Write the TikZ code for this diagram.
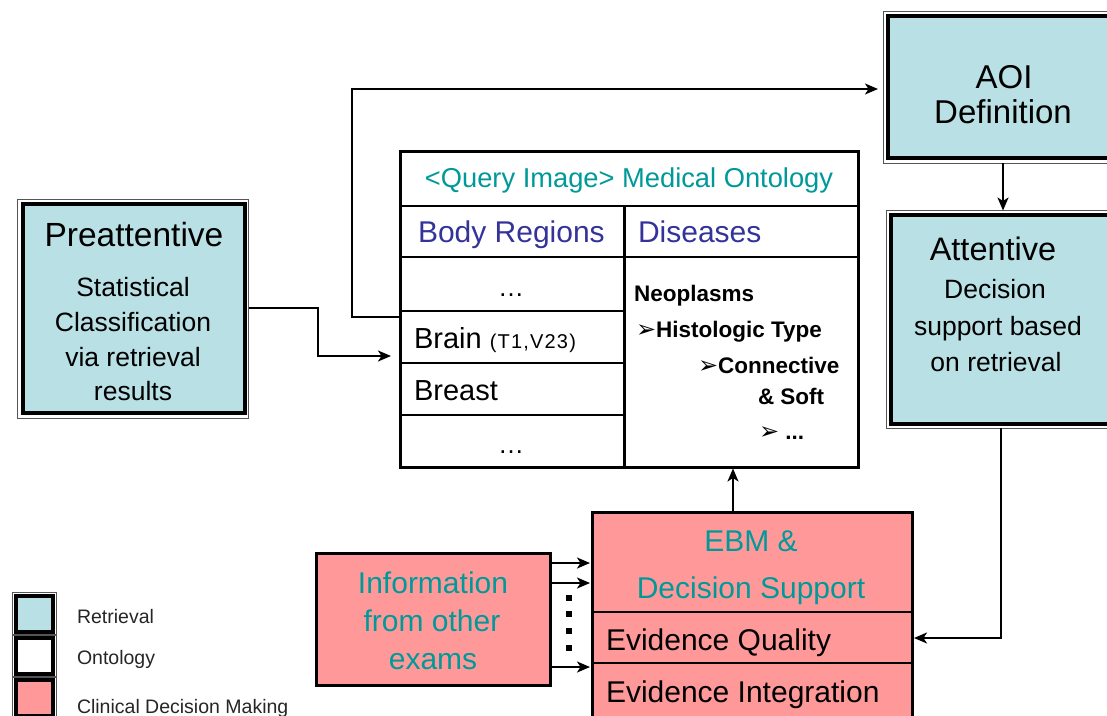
\documentclass[tikz,border=0pt]{standalone}
\usepackage{fontspec}
\setmainfont{Liberation Sans}
\newfontfamily\dejavu{DejaVu Sans}
\usetikzlibrary{arrows.meta,calc}
\definecolor{retr}{HTML}{B9E0E4}
\definecolor{clin}{HTML}{FF9999}
\definecolor{tealtxt}{HTML}{009999}
\definecolor{bluetxt}{HTML}{333399}
\definecolor{outerln}{HTML}{555555}
\newcommand{\fs}[1]{\fontsize{#1}{#1}\selectfont}
\begin{document}
\begin{tikzpicture}[x=1pt,y=-1pt,
  dbox/.style={draw=black, line width=4pt, rectangle, inner sep=0pt, outer sep=0pt, anchor=north west},
  sbox/.style={draw=black, line width=3pt, rectangle, inner sep=0pt, outer sep=0pt, anchor=north west},
  outline/.style={draw=outerln, line width=1pt},
  rowline/.style={line width=1.8pt},
  arr/.style={line width=1.9pt, -{Stealth[length=13pt,width=11pt,inset=3.5pt]}},
  txt/.style={inner sep=0pt, outer sep=0pt, anchor=base},
  txtw/.style={inner sep=0pt, outer sep=0pt, anchor=base west},
  dot/.style={fill=black, inner sep=0pt, minimum size=6pt, rectangle},
]
\useasboundingbox (0,0) rectangle (1107,715);
\fill[white] (0,0) rectangle (1107,715);

% ---------- Preattentive ----------
\node[dbox, fill=retr, minimum width=221.5pt, minimum height=209pt] (pre) at (23,204) {};
\draw[outline] ([shift={(-5.5pt,4.5pt)}]pre.north west) rectangle ([shift={(4pt,-5pt)}]pre.south east);
\node[txt, font=\fs{33.5}] (preT) at (134,246) {Preattentive};
\node[txt, font=\fs{26.5}] (preL1) at (133,296) {Statistical};
\node[txt, font=\fs{26.5}] (preL2) at (133,331) {Classification};
\node[txt, font=\fs{26.5}] (preL3) at (133,366) {via retrieval};
\node[txt, font=\fs{26.5}] (preL4) at (133,400) {results};

% ---------- AOI ----------
\node[dbox, fill=retr, minimum width=240pt, minimum height=142pt] (aoi) at (888,16) {};
\draw[outline] ([shift={(-5pt,4.5pt)}]aoi.north west) rectangle ([shift={(10pt,-5pt)}]aoi.south east);
\node[txt, font=\fs{33}] (aoiT1) at (1004,88) {AOI};
\node[txt, font=\fs{33}] (aoiT2) at (1003,123) {Definition};

% ---------- Attentive ----------
\node[dbox, fill=retr, minimum width=240pt, minimum height=209pt] (att) at (891,215) {};
\draw[outline] ([shift={(-4.5pt,4.5pt)}]att.north west) rectangle ([shift={(10pt,-4.5pt)}]att.south east);
\node[txt, font=\fs{32.5}] (attT) at (993,260) {Attentive};
\node[txt, font=\fs{26.5}] (attL1) at (995,298) {Decision};
\node[txt, font=\fs{26.5}] (attL2) at (998,335) {support based};
\node[txt, font=\fs{26.5}] (attL3) at (996,371) {on retrieval};

% ---------- Ontology table ----------
\node[sbox, fill=white, minimum width=458pt, minimum height=316pt] (onto) at (400,151) {};
\draw[rowline] (400,206) -- (858,206);
\draw[rowline] (400,257) -- (858,257);
\draw[line width=3pt] (624,206) -- (624,467);
\draw[rowline] (400,311) -- (624,311);
\draw[rowline] (400,363) -- (624,363);
\draw[rowline] (400,415) -- (624,415);
\node[txt, font=\fs{27.3}, text=tealtxt] (qhead) at (629,187) {<Query Image> Medical Ontology};
\node[txtw, font=\fs{30}, text=bluetxt] (body) at (418,242) {Body Regions};
\node[txtw, font=\fs{30}, text=bluetxt] (dis) at (638,242) {Diseases};
\node[txt, font=\fs{26}] (dots1) at (511,296) {…};
\node[txtw, font=\fs{29}] (brain) at (414,348) {Brain {\fs{20}\addfontfeature{LetterSpace=6}(T1,V23)}};
\node[txtw, font=\fs{29}] (breast) at (414,400) {Breast};
\node[txt, font=\fs{26}] (dots2) at (511,453) {…};
\node[txtw, font=\fs{22.5}\bfseries] (neo) at (634,301) {Neoplasms};
\node[txtw, font=\fs{22.5}\bfseries] (hist) at (636,337) {{\dejavu\fs{24}➢}Histologic Type};
\node[txtw, font=\fs{22.5}\bfseries] (conn) at (698,373) {{\dejavu\fs{24}➢}Connective};
\node[txtw, font=\fs{22.5}\bfseries] (soft) at (758,404) {\& Soft};
\node[txtw, font=\fs{22.5}\bfseries] (more) at (759,439) {{\dejavu\fs{24}➢} ...};

% ---------- EBM ----------
\node[sbox, fill=clin, minimum width=320pt, minimum height=230pt] (ebm) at (592,512) {};
\draw[rowline] (592,612) -- (912,612);
\draw[rowline] (592,663) -- (912,663);
\node[txt, font=\fs{30}, text=tealtxt] (ebmT1) at (751,551) {EBM \&};
\node[txt, font=\fs{30}, text=tealtxt] (ebmT2) at (751,598) {Decision Support};
\node[txtw, font=\fs{30}] (evq) at (606,650) {Evidence Quality};
\node[txtw, font=\fs{30}] (evi) at (606,702) {Evidence Integration};

% ---------- Information ----------
\node[sbox, fill=clin, minimum width=234pt, minimum height=132pt] (info) at (316,553) {};
\node[txt, font=\fs{30}, text=tealtxt] (infoT1) at (433,593) {Information};
\node[txt, font=\fs{30}, text=tealtxt] (infoT2) at (432,631) {from other};
\node[txt, font=\fs{30}, text=tealtxt] (infoT3) at (433,669) {exams};
\node[dot] (d1) at (569,598) {};
\node[dot] (d2) at (569,614) {};
\node[dot] (d3) at (569,631) {};
\node[dot] (d4) at (569,648) {};

% ---------- Legend ----------
\node[dbox, fill=retr, minimum width=37pt, minimum height=36pt] (lgR) at (16,596) {};
\draw[outline] ([shift={(-3.5pt,3.5pt)}]lgR.north west) rectangle ([shift={(3.5pt,-3.5pt)}]lgR.south east);
\node[dbox, fill=white, minimum width=37pt, minimum height=36pt] (lgO) at (16,638) {};
\draw[outline] ([shift={(-3.5pt,3.5pt)}]lgO.north west) rectangle ([shift={(3.5pt,-3.5pt)}]lgO.south east);
\node[dbox, fill=clin, minimum width=37pt, minimum height=36pt] (lgC) at (16,680) {};
\draw[outline] ([shift={(-3.5pt,3.5pt)}]lgC.north west) rectangle ([shift={(3.5pt,-3.5pt)}]lgC.south east);
\node[txtw, font=\fs{19.5}, text=black!85] (lgRT) at (77,623) {Retrieval};
\node[txtw, font=\fs{19.5}, text=black!85] (lgOT) at (77,664) {Ontology};
\node[txtw, font=\fs{19.5}, text=black!85] (lgCT) at (77,713) {Clinical Decision Making};

% ---------- Connectors ----------
\coordinate (preOut) at (248.5,308);
\coordinate (ontoIn) at (391,356);
\draw[arr] (preOut) -- (318,308) |- (ontoIn);

\coordinate (brainOut) at (400,317);
\coordinate (aoiIn) at (878,89);
\draw[arr] (brainOut) -- (352,317) |- (aoiIn);

\coordinate (aoiOut) at (1003,163);
\coordinate (attIn) at (1003,210.5);
\draw[arr] (aoiOut) -- (attIn);

\coordinate (attOut) at (1001,428);
\coordinate (ebmIn) at (914,638);
\draw[arr] (attOut) |- (ebmIn);

\coordinate (ebmOut) at (733,510.5);
\coordinate (ontoBot) at (733,468.5);
\draw[arr] (ebmOut) -- (ontoBot);

\draw[arr] (info.east |- 0,563) -- (590,563);
\draw[arr] (info.east |- 0,583) -- (590,583);
\draw[arr] (info.east |- 0,667) -- (590,667);
\end{tikzpicture}
\end{document}
